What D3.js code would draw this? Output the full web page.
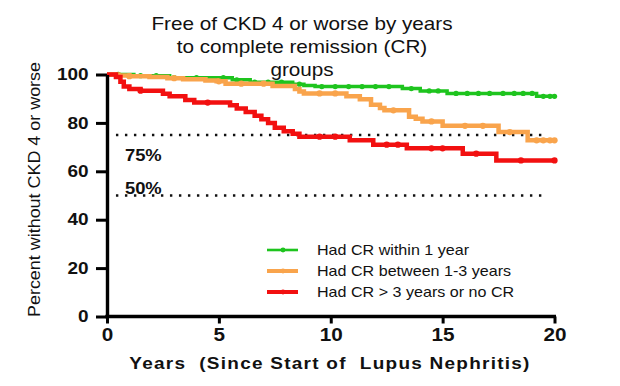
<!DOCTYPE html>
<html>
<head>
<meta charset="utf-8">
<script src="https://cdn.jsdelivr.net/npm/d3@7"></script>
<style>
    html, body { margin: 0; padding: 0; background: #fff; }
    svg { display: block; font-family: "Liberation Sans", Arial, sans-serif; }
</style>
</head>
<body>
<div id="chart"></div>
<script>
// step points [years, percent]
const greenSteps = [[0, 100], [1.2, 99.5], [2.8, 98.7], [5.6, 97.8], [6.4, 96.8], [8.3, 96], [8.8, 95.5], [9.3, 95], [13.2, 94.2], [14.0, 93.2], [15.2, 92.2], [19.2, 91], [20, 91]];
const orangeSteps = [[0, 100], [0.5, 99.6], [1.0, 99.3], [1.9, 99], [2.7, 98.5], [3.4, 98], [4.4, 97.5], [4.9, 97.2], [5.3, 96.2], [7.4, 95.2], [8.4, 94], [8.6, 93], [8.8, 92.2], [10.7, 91], [11.3, 89.8], [11.8, 87.5], [12.2, 86.2], [12.4, 85.2], [13.5, 82.5], [13.8, 81.7], [14.1, 80.6], [15.0, 78.8], [17.5, 76.2], [18.8, 72.8], [20, 72.8]];
const redSteps = [[0, 100], [0.4, 99], [0.6, 97], [0.75, 95], [1.0, 94], [1.5, 93.3], [2.5, 92], [2.8, 91], [3.5, 89.5], [3.9, 88.4], [5.5, 87.3], [5.8, 86], [6.2, 84.5], [6.6, 83], [6.9, 81.5], [7.2, 80], [7.5, 78], [7.9, 76.5], [8.3, 75.5], [8.6, 74.3], [10.85, 72.8], [11.9, 71], [13.4, 69.5], [15.9, 67.3], [17.4, 64.5], [20, 64.5]];

// censor marks (years)
const greenCensor = [0.5, 1.5, 2.2, 3, 4, 5.2, 5.8, 6.6, 7.2, 7.8, 8.6, 9.6, 10.2, 10.8, 11.4, 12, 12.6, 13.6, 14.4, 14.8, 15.6, 16.1, 16.6, 17.1, 17.7, 18.2, 18.6, 19.0, 19.5, 19.8, 20];
const orangeCensor = [1, 3, 5, 6, 7, 9.5, 10.2, 12.8, 14.5, 16, 16.8, 18, 19.2, 19.5, 19.8, 20];
const redCensor = [1.5, 4.5, 9.5, 10.2, 12.5, 13, 14.5, 15, 16.5, 18.5, 20];

const seriesNames = ["Had CR within 1 year", "Had CR between 1-3 years", "Had CR > 3 years or no CR"];
const colors = ["#1ec41e", "#f9a44c", "#f21010"];
const widths = [3.5, 4.5, 4.5];

const titleLines = ["Free of CKD 4 or worse by years", "to complete remission (CR)", "groups"];
const yLabel = "Percent without CKD 4 or worse";
const xLabel = "Years  (Since Start of  Lupus Nephritis)";
const xTicks = [0, 5, 10, 15, 20];
const yTicks = [0, 20, 40, 60, 80, 100];
const refLevels = [75, 50];
const refLabels = ["75%", "50%"];

const W = 620, H = 386;
const stretch = 1.15; // the picture is widened a little

const svg = d3.select("#chart").append("svg")
    .attr("width", W)
    .attr("height", H);

svg.append("rect").attr("width", W).attr("height", H).attr("fill", "#fff");

const x = d3.scaleLinear().domain([0, 20]).range([107, 554.5]);
const y = d3.scaleLinear().domain([0, 100]).range([316.5, 74.5]);

function wideText(g, str, tx, ty, anchor) {
    return g.append("text")
        .attr("transform", `translate(${tx},${ty}) scale(${stretch},1)`)
        .attr("text-anchor", anchor || "start")
        .style("white-space", "pre")
        .text(str);
}

// title
titleLines.forEach((t, i) => {
    wideText(svg, t, 302, 30 + i * 23, "middle")
        .attr("font-size", 18)
        .attr("fill", "#111");
});

// dotted reference lines
refLevels.forEach((v, i) => {
    svg.append("line")
        .attr("x1", x(0.4)).attr("x2", x(19.6))
        .attr("y1", y(v)).attr("y2", y(v))
        .attr("stroke", "#111")
        .attr("stroke-width", 2.4)
        .attr("stroke-dasharray", "2.4 6.6");
    wideText(svg, refLabels[i], x(0.8), y(v) + (i === 0 ? 26 : -2))
        .attr("font-size", 16)
        .attr("font-weight", "bold")
        .attr("fill", "#111");
});

// curves
const line = d3.line()
    .x(d => x(d[0]))
    .y(d => y(d[1]))
    .curve(d3.curveStepAfter);

function valueAt(steps, t) {
    let v = steps[0][1];
    steps.forEach(s => { if (s[0] <= t) v = s[1]; });
    return v;
}

const allSteps = [greenSteps, orangeSteps, redSteps];
const allCensor = [greenCensor, orangeCensor, redCensor];

allSteps.forEach((steps, i) => {
    svg.append("path")
        .attr("d", line(steps))
        .attr("fill", "none")
        .attr("stroke", colors[i])
        .attr("stroke-width", widths[i]);

    svg.append("g")
        .selectAll("circle")
        .data(allCensor[i])
        .join("circle")
        .attr("cx", d => x(d))
        .attr("cy", d => y(valueAt(steps, d)))
        .attr("r", widths[i] / 2 + 0.9)
        .attr("fill", colors[i]);
});

// axes
const xAxis = svg.append("g")
    .attr("transform", `translate(0,${y(0)})`)
    .call(d3.axisBottom(x).tickValues(xTicks).tickSize(7).tickSizeOuter(0).tickPadding(5));

const yAxis = svg.append("g")
    .attr("transform", `translate(${x(0)},0)`)
    .call(d3.axisLeft(y).tickValues(yTicks).tickSize(11).tickSizeOuter(0).tickPadding(5));

[xAxis, yAxis].forEach(a => {
    a.select(".domain").attr("stroke", "#000").attr("stroke-width", 3.4);
    a.selectAll(".tick line").attr("stroke", "#000").attr("stroke-width", 3);
    a.selectAll(".tick text")
        .attr("font-family", "'Liberation Sans', Arial, sans-serif")
        .attr("font-weight", "bold")
        .attr("fill", "#111");
});
xAxis.select(".domain").attr("d", `M${x(0) - 1.7},0H${x(20) + 1.5}`);
xAxis.selectAll(".tick text").attr("font-size", 18)
    .attr("transform", `scale(${stretch},1)`);
yAxis.selectAll(".tick text").attr("font-size", 16.5)
    .attr("transform", `scale(${stretch},1)`);

// axis titles
wideText(svg, xLabel, 330, 369, "middle")
    .attr("font-size", 16.5)
    .attr("font-weight", "bold")
    .attr("letter-spacing", 1.1)
    .attr("fill", "#111");

svg.append("text")
    .attr("transform", `translate(40,${(62 + 317) / 2}) rotate(-90)`)
    .attr("text-anchor", "middle")
    .attr("font-size", 16.5)
    .attr("textLength", 255)
    .attr("lengthAdjust", "spacingAndGlyphs")
    .attr("fill", "#111")
    .text(yLabel);

// legend
const legend = svg.append("g");
seriesNames.forEach((name, i) => {
    const ly = 250 + i * 21;
    legend.append("line")
        .attr("x1", 267).attr("x2", 298)
        .attr("y1", ly).attr("y2", ly)
        .attr("stroke", colors[i])
        .attr("stroke-width", i === 0 ? 2.6 : 4);
    legend.append("circle")
        .attr("cx", 283).attr("cy", ly)
        .attr("r", 2.4)
        .attr("fill", colors[i]);
    wideText(legend, name, 317, ly + 5)
        .attr("font-size", 14)
        .attr("fill", "#111");
});
</script>
</body>
</html>
